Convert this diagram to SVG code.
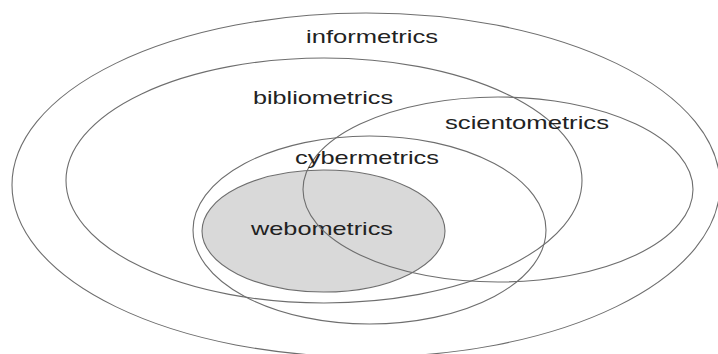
<svg xmlns="http://www.w3.org/2000/svg" width="718" height="354" viewBox="0 0 718 354">
  <style>
    .ring { fill: none; stroke: #6e6e6e; stroke-width: 1.1; }
    .web { fill: #d9d9d9; stroke: #6e6e6e; stroke-width: 1.1; }
    .lbl { font-family: "Liberation Sans", Arial, Helvetica, sans-serif; font-size: 19px; fill: #222; }
  </style>
  <rect width="718" height="354" fill="#ffffff"/>
  <g id="webometrics">
    <ellipse class="web" cx="323.5" cy="231" rx="121.5" ry="61"/>
    <text class="lbl" x="251" y="235" textLength="142" lengthAdjust="spacingAndGlyphs">webometrics</text>
  </g>
  <g id="informetrics">
    <ellipse class="ring" cx="366" cy="185" rx="354" ry="172"/>
    <text class="lbl" x="306" y="43" textLength="132" lengthAdjust="spacingAndGlyphs">informetrics</text>
  </g>
  <g id="bibliometrics">
    <ellipse class="ring" cx="324" cy="180.5" rx="258" ry="122.5"/>
    <text class="lbl" x="253" y="104" textLength="140" lengthAdjust="spacingAndGlyphs">bibliometrics</text>
  </g>
  <g id="scientometrics">
    <ellipse class="ring" cx="498" cy="189.5" rx="195" ry="92.5"/>
    <text class="lbl" x="445" y="129" textLength="164" lengthAdjust="spacingAndGlyphs">scientometrics</text>
  </g>
  <g id="cybermetrics">
    <ellipse class="ring" cx="369.5" cy="230" rx="176.5" ry="94"/>
    <text class="lbl" x="295" y="164" textLength="144" lengthAdjust="spacingAndGlyphs">cybermetrics</text>
  </g>
  <g id="connectors"/>
</svg>
